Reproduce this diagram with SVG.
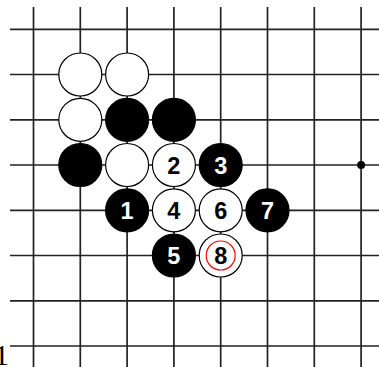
<svg xmlns="http://www.w3.org/2000/svg" width="379" height="367" viewBox="0 0 379 367">
<style>
.g{stroke:#222;stroke-width:1.7;fill:none}
.w{fill:#fff;stroke:#000;stroke-width:1.2}
.b{fill:#000;stroke:#000;stroke-width:1.2}
.n{font-family:"Liberation Sans",Arial,sans-serif;font-weight:bold;font-size:23.5px;text-anchor:middle}
.nw{fill:#000}
.nb{fill:#fff}
</style>
<rect width="379" height="367" fill="#fff"/>
<g id="grid" class="g">
<path d="M33.5 7V367M80.3 7V367M127.1 7V367M173.9 7V367M220.7 7V367M267.5 7V367M314.3 7V367M361.1 7V367"/>
<path d="M10 29.3H379M10 74.5H379M10 119.8H379M10 165H379M10 210.3H379M10 255.5H379M10 300.8H379M10 346H379"/>
</g>
<circle id="hoshi" cx="361.1" cy="165" r="4" fill="#000"/>
<g id="stones">
<g id="w1"><ellipse class="w" cx="80.3" cy="74.5" rx="21.5" ry="21.5"/></g>
<g id="w2"><ellipse class="w" cx="127.1" cy="74.5" rx="21.5" ry="21.5"/></g>
<g id="w3"><ellipse class="w" cx="80.3" cy="119.8" rx="21.5" ry="21.5"/></g>
<g id="b1"><ellipse class="b" cx="127.1" cy="119.8" rx="21.5" ry="21.5"/></g>
<g id="b2"><ellipse class="b" cx="173.9" cy="119.8" rx="21.5" ry="21.5"/></g>
<g id="b3"><ellipse class="b" cx="80.3" cy="165" rx="21.5" ry="21.5"/></g>
<g id="w4"><ellipse class="w" cx="127.1" cy="165" rx="21.5" ry="21.5"/></g>
<g id="m2"><ellipse class="w" cx="173.9" cy="165" rx="21.5" ry="21.5"/><text class="n nw" x="173.9" y="173.5">2</text></g>
<g id="m3"><ellipse class="b" cx="220.7" cy="165" rx="21.5" ry="21.5"/><text class="n nb" x="220.7" y="173.5">3</text></g>
<g id="m1"><ellipse class="b" cx="127.1" cy="210.3" rx="21.5" ry="21.5"/><text class="n nb" x="127.1" y="218.8">1</text></g>
<g id="m4"><ellipse class="w" cx="173.9" cy="210.3" rx="21.5" ry="21.5"/><text class="n nw" x="173.9" y="218.8">4</text></g>
<g id="m6"><ellipse class="w" cx="220.7" cy="210.3" rx="21.5" ry="21.5"/><text class="n nw" x="220.7" y="218.8">6</text></g>
<g id="m7"><ellipse class="b" cx="267.5" cy="210.3" rx="21.5" ry="21.5"/><text class="n nb" x="267.5" y="218.8">7</text></g>
<g id="m5"><ellipse class="b" cx="173.9" cy="255.5" rx="21.5" ry="21.5"/><text class="n nb" x="173.9" y="264">5</text></g>
<g id="m8"><ellipse class="w" cx="220.7" cy="255.5" rx="21.5" ry="21.5"/><circle cx="220.7" cy="255.5" r="14.5" fill="none" stroke="#f00" stroke-width="1.2"/><text class="n nw" x="220.7" y="264">8</text></g>
</g>
<text x="9" y="365" font-family="Liberation Serif,'Times New Roman',serif" font-size="30" text-anchor="end" fill="#000">1</text>
</svg>
